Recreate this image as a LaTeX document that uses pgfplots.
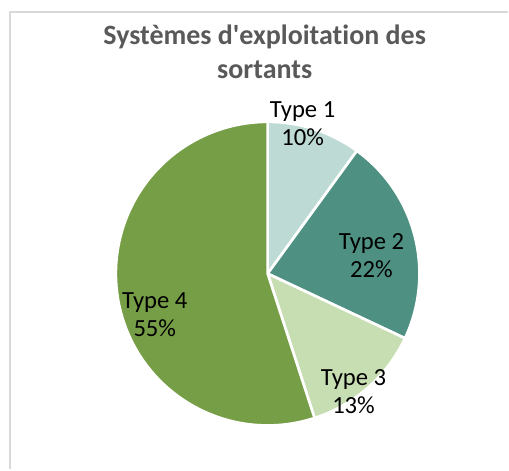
\documentclass[border=0pt]{standalone}
\usepackage{pgfplots}
\pgfplotsset{compat=1.18}
\usepackage{fontspec}
\setmainfont{Carlito}[Ligatures={NoCommon,TeXOff},Numbers=Lining]
\definecolor{c1}{RGB}{190,218,212}
\definecolor{c2}{RGB}{78,145,130}
\definecolor{c3}{RGB}{199,221,178}
\definecolor{c4}{RGB}{118,158,70}
\definecolor{titlegray}{RGB}{89,89,89}
\definecolor{framegray}{RGB}{217,217,217}
\begin{document}
\begin{tikzpicture}
\def\cx{268}\def\cy{196}\def\R{114pt}
\begin{axis}[x=0.75pt,y=0.75pt,xmin=0,xmax=509,ymin=0,ymax=470,hide axis,clip=false]
\path (axis cs:0,0) rectangle (axis cs:509,470);
\draw[framegray,line width=1pt] (axis cs:10,0) -- (axis cs:10,458) -- (axis cs:509,458);
\xdef\startang{90}
\foreach \v/\c in {10/c1,22/c2,13/c3,55/c4}{
  \pgfmathsetmacro\endang{\startang-\v*3.6}
  \edef\tmp{\noexpand\fill[\c,draw=white,line width=2pt,line join=round] (axis cs:\cx,\cy) -- ++(\startang:\R) arc[start angle=\startang,end angle=\endang,radius=\R] -- cycle;}
  \tmp
  \xdef\startang{\endang}
}
\node[font=\fontsize{21}{25.5}\selectfont\bfseries,text=titlegray,align=center] at (axis cs:265,418) {Systèmes d'exploitation des\\sortants};
\tikzset{lab/.style={font=\fontsize{18.5}{21}\selectfont,text=black,align=center}}
\node[lab] at (axis cs:303,346) {Type 1\\10\%};
\node[lab] at (axis cs:372,214) {Type 2\\22\%};
\node[lab] at (axis cs:354,78) {Type 3\\13\%};
\node[lab] at (axis cs:155,155) {Type 4\\55\%};
\end{axis}
\end{tikzpicture}
\end{document}
